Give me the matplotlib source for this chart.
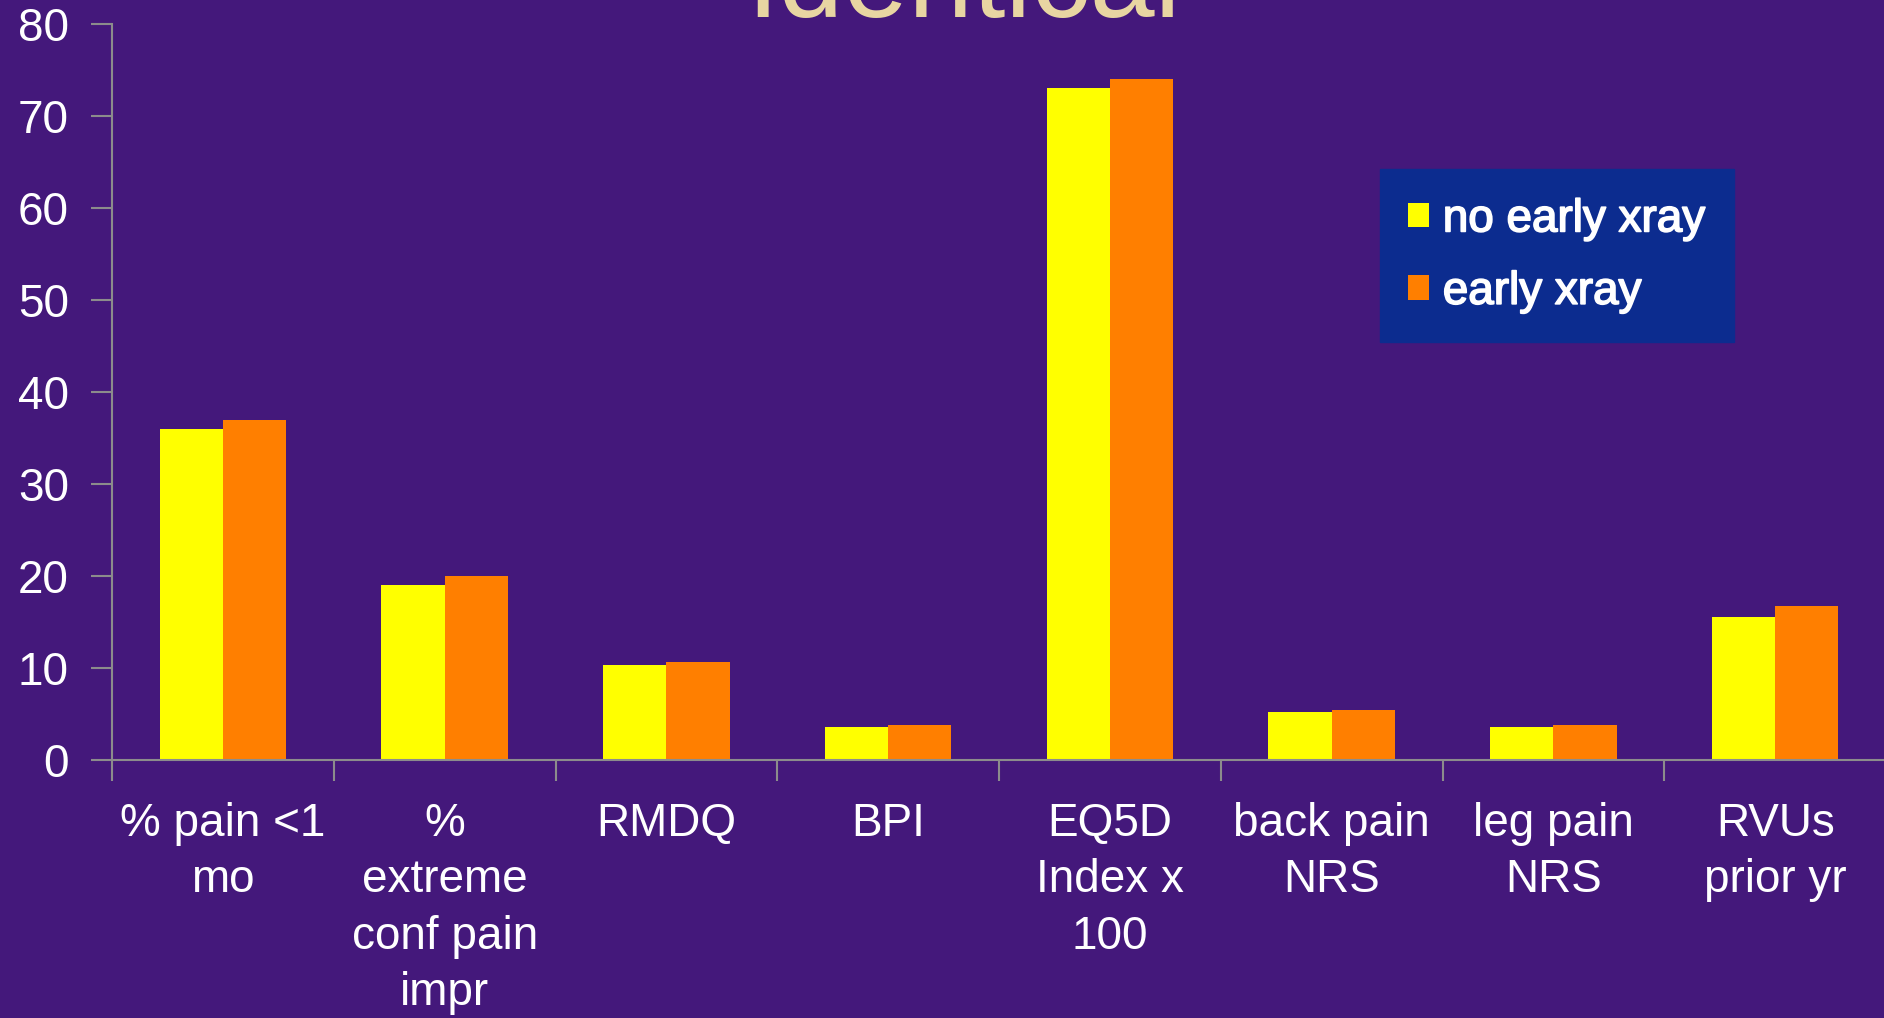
import matplotlib.pyplot as plt
import matplotlib.patheffects as pe
import numpy as np

# ----- DATA -----
categories = ["% pain <1\nmo", "%\nextreme\nconf pain\nimpr", "RMDQ", "BPI",
              "EQ5D\nIndex x\n100", "back pain\nNRS", "leg pain\nNRS", "RVUs\nprior yr"]
no_early_xray = [36, 19, 10.3, 3.6, 73, 5.2, 3.6, 15.5]
early_xray    = [37, 20, 10.6, 3.8, 74, 5.4, 3.8, 16.7]
series_names  = ["no early xray", "early xray"]

# ----- STYLE -----
BG      = '#44187b'
YELLOW  = '#ffff00'
ORANGE  = '#ff7f00'
AXIS    = '#8c8c8c'
LEGBG   = '#0c2c8f'
TITLE   = '#e8d5a2'
plt.rcParams['font.family'] = ['Liberation Sans', 'DejaVu Sans']

fig = plt.figure(figsize=(18.84, 10.18), dpi=100, facecolor=BG)
ax = fig.add_axes([112/1884, 258/1018, 1774/1884, 736/1018], facecolor=BG)

x = np.arange(len(categories))
w = 0.285
b1 = ax.bar(x - w/2, no_early_xray, w, color=YELLOW, label=series_names[0])
b2 = ax.bar(x + w/2, early_xray, w, color=ORANGE, label=series_names[1])

ax.set_xlim(-0.5, len(categories) - 0.5)
ax.set_ylim(0, 80)
ax.set_yticks(range(0, 81, 10))

# labels sit under the groups, tick marks between them
ax.set_xticks(x)
ax.set_xticklabels(categories, fontsize=33, color='white', linespacing=1.37)
ax.set_xticks(np.arange(-0.5, len(categories)), minor=True)
ax.tick_params(axis='x', which='major', length=0, pad=30)
ax.tick_params(axis='x', which='minor', length=15, width=1.5, color=AXIS, direction='out')
ax.tick_params(axis='y', length=15, width=1.5, color=AXIS, labelsize=33,
               labelcolor='white', pad=16)

for side in ['top', 'right']:
    ax.spines[side].set_visible(False)
for side in ['left', 'bottom']:
    ax.spines[side].set_color(AXIS)
    ax.spines[side].set_linewidth(1.5)

leg = ax.legend(handles=[b1, b2], loc='upper left', fontsize=33, frameon=True,
                facecolor=LEGBG, edgecolor=LEGBG, framealpha=1, fancybox=False,
                handlelength=0.45, handleheight=0.45, handletextpad=0.3,
                labelspacing=0.62, borderpad=0.62, borderaxespad=0)
leg.set_bbox_to_anchor((1380/1884, 1 - 169/1018), transform=fig.transFigure)
for t in leg.get_texts():
    t.set_color('white')
    t.set_path_effects([pe.withStroke(linewidth=1.2, foreground='white')])

# slide title, mostly off the top of the canvas
fig.text(963/1884, 1 - 17/1018, "Identical", fontsize=84, color=TITLE,
         ha='center', va='baseline')

fig.savefig('out.png', dpi=100, facecolor=BG)
